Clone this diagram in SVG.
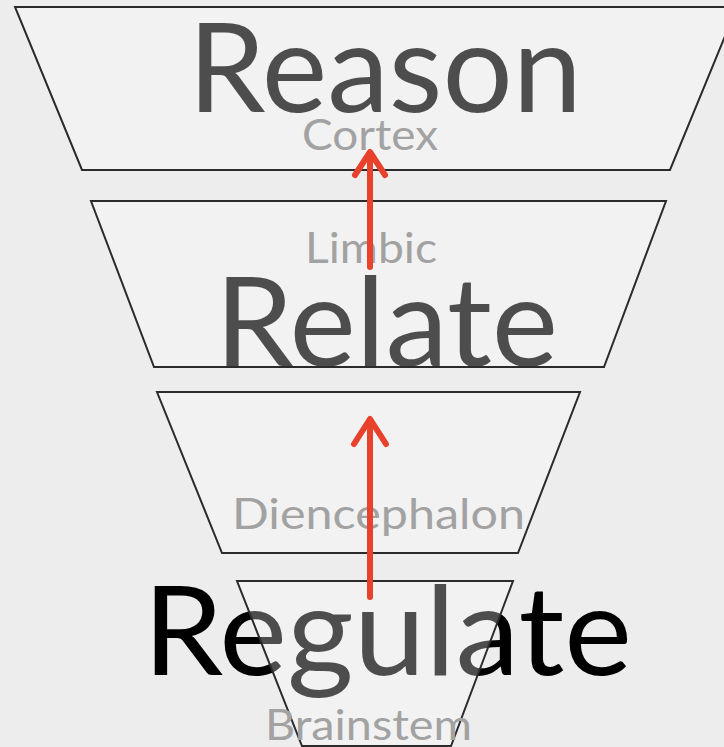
<svg xmlns="http://www.w3.org/2000/svg" width="724" height="747" viewBox="0 0 724 747">
<style>
.bg{fill:#ededed}
.tr{fill:#ffffff;fill-opacity:0.3;stroke:#2b2b2b;stroke-width:2;stroke-linejoin:miter}
.big{font-family:Lato,"Open Sans",sans-serif;font-size:124px;fill:#000}
.lab{font-family:Lato,"Open Sans",sans-serif;font-size:43px;fill:#a2a2a2}
.arr{fill:none;stroke:#e8412c;stroke-width:6;stroke-linecap:round;stroke-linejoin:round}
</style>
<rect class="bg" x="0" y="0" width="724" height="747"/>
<g id="reason">
<text class="big" x="188" y="112" textLength="394" lengthAdjust="spacingAndGlyphs">Reason</text>
<polygon class="tr" points="15,7 737,7 670,170 82,170"/>
<text class="lab" x="302" y="150" textLength="136" lengthAdjust="spacingAndGlyphs">Cortex</text>
</g>
<g id="relate">
<text class="big" x="215" y="366" textLength="343" lengthAdjust="spacingAndGlyphs">Relate</text>
<polygon class="tr" points="91,201 666,201 604,367 154,367"/>
<text class="lab" x="305" y="263" textLength="132" lengthAdjust="spacingAndGlyphs">Limbic</text>
</g>
<g id="diencephalon">
<polygon class="tr" points="157,392 580,392 518,553 222,553"/>
<text class="lab" x="232" y="529" textLength="293" lengthAdjust="spacingAndGlyphs">Diencephalon</text>
</g>
<g id="regulate">
<text class="big" x="143" y="675" textLength="489" lengthAdjust="spacingAndGlyphs">Regulate</text>
<polygon class="tr" points="237,581 513,581 451,746 302,746"/>
<text class="lab" x="265" y="740" textLength="207" lengthAdjust="spacingAndGlyphs">Brainstem</text>
</g>
<g id="connectors">
<path class="arr" d="M370,267 V153 M355,175 L370,152 L385,175"/>
<path class="arr" d="M370,597 V420 M354,444 L370,419 L386,444"/>
</g>
</svg>
